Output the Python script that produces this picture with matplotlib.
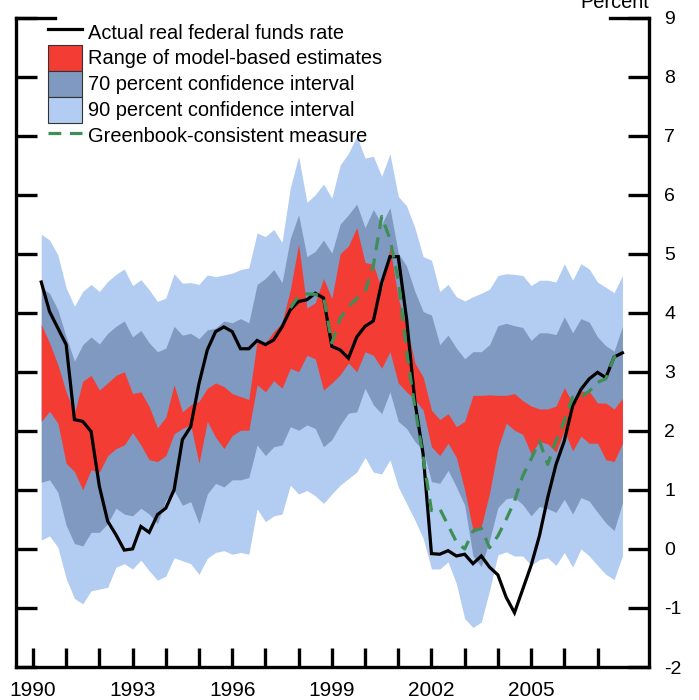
import numpy as np
import matplotlib
matplotlib.use("Agg")
import matplotlib.pyplot as plt
from matplotlib.lines import Line2D
from matplotlib.patches import Patch

plt.rcParams['font.family'] = ['Liberation Sans', 'DejaVu Sans']
plt.rcParams['axes.unicode_minus'] = False

# ---------------- data (quarterly, 1990Q1 .. 2007Q3) ----------------
first_obs = 1990.25
step = 0.25

upper90 = [5.33, 5.23, 4.98, 4.42, 4.11, 4.36, 4.48, 4.36, 4.53, 4.65, 4.74, 4.46, 4.56, 4.39, 4.19, 4.25, 4.66, 4.50,
           4.51, 4.48, 4.64, 4.61, 4.64, 4.67, 4.73, 4.76, 5.35, 5.29, 5.41, 5.19, 6.12, 6.65, 5.87, 6.00, 6.18, 5.94, 6.50, 6.70,
           6.99, 6.62, 6.65, 6.31, 6.69, 5.97, 5.81, 5.44, 4.95, 4.89, 4.36, 4.48, 4.27, 4.20, 4.27, 4.33, 4.40, 4.63, 4.66,
           4.65, 4.63, 4.46, 4.55, 4.55, 4.52, 4.83, 4.55, 4.83, 4.74, 4.52, 4.43, 4.34, 4.63]
upper70 = [4.42, 4.33, 4.05, 3.59, 3.18, 3.46, 3.59, 3.47, 3.65, 3.77, 3.86, 3.59, 3.70, 3.49, 3.34, 3.40, 3.77, 3.62,
           3.65, 3.56, 3.71, 3.74, 3.86, 3.83, 3.90, 3.83, 4.48, 4.58, 4.73, 4.51, 5.26, 5.66, 4.95, 5.04, 5.23, 5.01, 5.50, 5.66,
           5.84, 5.44, 5.75, 5.50, 5.78, 5.01, 4.79, 4.36, 4.02, 3.96, 3.46, 3.62, 3.40, 3.22, 3.34, 3.34, 3.46, 3.78, 3.82,
           3.78, 3.75, 3.53, 3.66, 3.66, 3.63, 3.93, 3.66, 3.90, 3.84, 3.59, 3.44, 3.35, 3.77]
model_high = [3.80, 3.49, 3.12, 2.66, 2.30, 2.84, 2.94, 2.69, 2.81, 2.94, 3.00, 2.63, 2.66, 2.41, 2.05, 2.23, 2.78, 2.32,
              2.44, 2.50, 2.72, 2.81, 2.75, 2.63, 2.58, 2.53, 3.52, 3.49, 3.68, 3.83, 4.39, 5.16, 4.08, 4.17, 4.58, 4.24, 5.00, 5.13,
              5.44, 4.85, 4.82, 4.39, 5.10, 4.24, 3.77, 3.15, 2.91, 2.35, 2.19, 2.29, 2.07, 2.16, 2.60, 2.60, 2.61, 2.60, 2.60,
              2.63, 2.51, 2.42, 2.37, 2.37, 2.42, 2.73, 2.47, 2.67, 2.67, 2.47, 2.47, 2.37, 2.55]
model_low = [2.16, 2.33, 2.13, 1.45, 1.31, 1.00, 1.34, 1.30, 1.58, 1.70, 1.76, 1.97, 1.76, 1.51, 1.48, 1.58, 1.95, 2.04,
             2.10, 1.45, 2.16, 1.89, 1.70, 1.92, 2.01, 2.01, 2.78, 2.66, 2.85, 2.72, 3.06, 3.00, 3.28, 3.22, 2.69, 2.81, 2.95, 3.15,
             3.00, 3.34, 3.28, 3.06, 3.34, 2.81, 2.66, 2.53, 2.35, 1.73, 1.58, 1.79, 1.55, 1.00, 0.32, 0.38, 0.95, 1.70, 2.13,
             2.01, 1.94, 1.61, 1.82, 1.78, 1.64, 2.01, 1.66, 1.91, 1.79, 1.79, 1.51, 1.48, 1.79]
lower70 = [1.13, 1.17, 0.96, 0.40, 0.09, 0.05, 0.28, 0.28, 0.43, 0.69, 0.59, 0.56, 0.69, 0.59, 0.43, 0.83, 0.99, 0.74,
           0.80, 0.43, 0.93, 1.11, 1.05, 1.17, 1.17, 1.21, 1.76, 1.58, 1.73, 1.76, 2.07, 2.01, 2.10, 2.04, 1.73, 1.85, 2.10, 2.30,
           2.32, 2.72, 2.44, 2.29, 2.66, 2.16, 2.04, 1.82, 1.67, 1.14, 1.11, 1.33, 1.05, 0.74, -0.12, -0.30, 0.15, 0.70, 0.85,
           0.87, 0.75, 0.56, 0.72, 0.68, 0.62, 0.84, 0.59, 0.87, 0.81, 0.62, 0.44, 0.31, 0.78]
lower90 = [0.15, 0.22, 0.03, -0.50, -0.84, -0.93, -0.71, -0.68, -0.65, -0.31, -0.25, -0.34, -0.19, -0.37, -0.53, -0.46, -0.15, -0.20,
           -0.25, -0.43, -0.16, -0.06, -0.03, -0.09, -0.06, -0.09, 0.68, 0.46, 0.56, 0.59, 1.08, 0.93, 0.99, 0.90, 0.77, 0.93, 1.08, 1.19,
           1.30, 1.55, 1.30, 1.27, 1.51, 1.05, 0.77, 0.49, 0.18, -0.34, -0.34, -0.22, -0.59, -1.18, -1.33, -1.24, -0.70, -0.10, -0.05,
           -0.12, -0.12, -0.28, -0.18, -0.15, -0.28, -0.06, -0.31, 0.00, -0.12, -0.28, -0.43, -0.52, -0.12]
actual_rate = [4.52, 4.02, 3.74, 3.46, 2.19, 2.16, 1.99, 1.06, 0.47, 0.24, -0.02, 0.00, 0.38, 0.28, 0.58, 0.69, 1.00, 1.85,
               2.07, 2.80, 3.37, 3.68, 3.76, 3.68, 3.39, 3.39, 3.53, 3.46, 3.54, 3.76, 4.05, 4.19, 4.22, 4.33, 4.25, 3.43, 3.37, 3.23,
               3.59, 3.77, 3.86, 4.51, 4.95, 4.95, 3.90, 2.50, 1.60, -0.08, -0.09, -0.03, -0.12, -0.09, -0.25, -0.12, -0.31, -0.44, -0.82,
               -1.08, -0.68, -0.28, 0.22, 0.87, 1.43, 1.83, 2.42, 2.70, 2.88, 2.99, 2.90, 3.25, 3.32]
# Greenbook-consistent measure starts in 1997Q4
greenbook_start = 30
greenbook = [4.08, 4.28, 4.32, 4.31, 4.27, 3.49, 3.90, 4.10, 4.24, 4.35, 4.80, 5.63, 5.25, 4.55, 3.35, 2.40, 1.55, 0.65,
             0.68, 0.40, 0.12, 0.00, 0.30, 0.35, 0.02, 0.22, 0.50, 0.81, 1.24, 1.52, 1.83, 1.43, 1.83, 2.17, 2.57, 2.57,
             2.67, 2.82, 2.88, 3.25, 3.32]

year_ticks = list(range(1990, 2008))
year_labels = ['1990', '1993', '1996', '1999', '2002', '2005']
y_ticks = list(range(-2, 10))

labels = ["Actual real federal funds rate", "Range of model-based estimates",
          "70 percent confidence interval", "90 percent confidence interval",
          "Greenbook-consistent measure"]

# ---------------- styling ----------------
c_light = '#B3CCF1'
c_dark = '#7F99C0'
c_red = '#F33C33'
c_green = '#3E8E57'

W, H = 699, 700
fig = plt.figure(figsize=(W / 100, H / 100), dpi=100)
left_px, right_px, top_px, bot_px = 16, 649, 17.5, 667
ax_w_px = right_px - left_px
ax = fig.add_axes([left_px / W, 1 - bot_px / H, ax_w_px / W, (bot_px - top_px) / H])

t = first_obs + step * np.arange(len(actual_rate))
tg = t[greenbook_start:greenbook_start + len(greenbook)]

ax.fill_between(t, lower90, upper90, color=c_light, lw=0, zorder=1)
ax.fill_between(t, lower70, upper70, color=c_dark, lw=0, zorder=2)
ax.fill_between(t, model_low, model_high, color=c_red, lw=0, zorder=3)
ax.plot(t, actual_rate, color='black', lw=2.3, zorder=4, solid_joinstyle='miter')
ax.plot(tg, greenbook, color=c_green, lw=2.3, ls=(0, (4, 2.7)), zorder=5)

ax.set_xlim(1989.49, 2008.55)
ax.set_ylim(-2, 9)

for s in ['left', 'right', 'bottom']:
    ax.spines[s].set_linewidth(2.4)
ax.spines['top'].set_visible(False)

ax.set_yticks(y_ticks)
ax.set_yticklabels([str(v) for v in y_ticks])
ax.tick_params(axis='y', left=True, right=True, labelleft=False, labelright=True,
               direction='in', length=15, width=2.4, pad=11, labelsize=14)

ax.set_xticks(year_ticks)
ax.set_xticklabels([str(y) if str(y) in year_labels else '' for y in year_ticks])
ax.tick_params(axis='x', bottom=True, top=False, direction='in', length=14, width=2.4,
               pad=10, labelsize=15)

# longer caps at the top of both vertical axes
cap = 39 / ax_w_px
for x0, x1 in [(0, cap), (1 - cap, 1)]:
    ax.add_line(Line2D([x0, x1], [1, 1], transform=ax.transAxes, color='black',
                       lw=2.4, solid_capstyle='projecting', clip_on=False, zorder=6))

fig.text(right_px / W, 1 - 8 / H, 'Percent', ha='right', va='baseline', fontsize=14.4)

handles = [Line2D([], [], color='black', lw=2.3),
           Patch(facecolor=c_red, edgecolor='#333333', lw=0.8),
           Patch(facecolor=c_dark, edgecolor='#333333', lw=0.8),
           Patch(facecolor=c_light, edgecolor='#333333', lw=0.8),
           Line2D([], [], color=c_green, lw=2.3, ls=(0, (4, 2.7)))]
fig.legend(handles, labels, loc='upper left', bbox_to_anchor=(48 / W, 1 - 19 / H),
           frameon=False, fontsize=14.4, borderpad=0, borderaxespad=0,
           handlelength=1.7, handleheight=1.62, handletextpad=0.3, labelspacing=0.0)

fig.savefig('out.png', dpi=100)
